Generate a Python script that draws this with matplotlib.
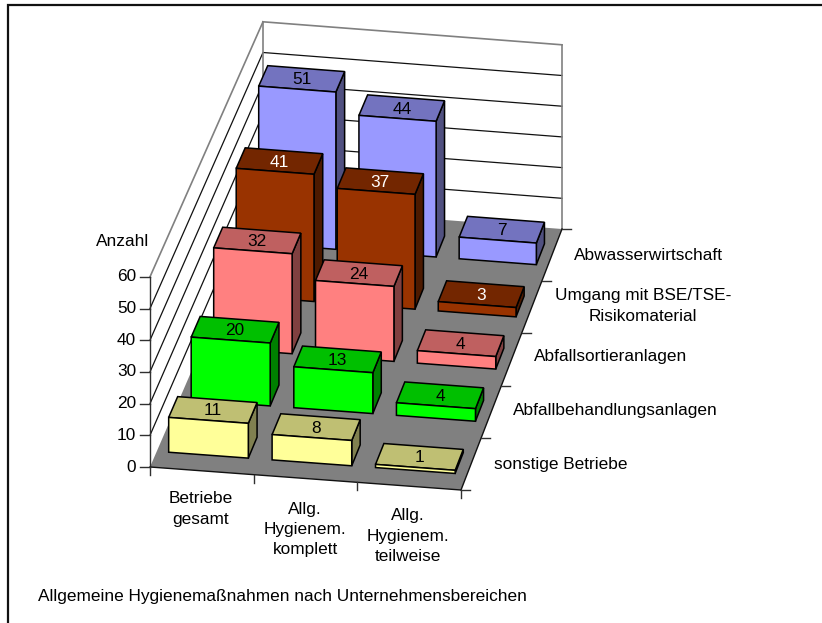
import numpy as np
import matplotlib
matplotlib.use("Agg")
import matplotlib.pyplot as plt
from matplotlib.patches import Polygon

plt.rcParams['font.family'] = ['Liberation Sans', 'DejaVu Sans']

# datos
categorias = ["Betriebe\ngesamt", "Allg.\nHygienem.\nkomplett", "Allg.\nHygienem.\nteilweise"]
series = ["sonstige Betriebe", "Abfallbehandlungsanlagen", "Abfallsortieranlagen",
          "Umgang mit BSE/TSE-\nRisikomaterial", "Abwasserwirtschaft"]
sonstige = [11, 8, 1]
behandlung = [20, 13, 4]
sortier = [32, 24, 4]
bse = [41, 37, 3]
abwasser = [51, 44, 7]
valores = [sonstige, behandlung, sortier, bse, abwasser]
ticks_z = [0, 10, 20, 30, 40, 50, 60]

# (frente, arriba, lado, texto)
colores = [
    ("#FFFF99", "#BFBF73", "#808050", "black"),
    ("#00FF00", "#00BF00", "#008000", "black"),
    ("#FF8080", "#BF6060", "#804040", "black"),
    ("#993300", "#732600", "#4D1A00", "white"),
    ("#9999FF", "#7373BF", "#505080", "black"),
]

FS = 12.4
W, H = 822, 623
fig = plt.figure(figsize=(W / 100, H / 100), dpi=100)
ax = fig.add_axes([0, 0, 1, 1])
ax.set_xlim(0, W)
ax.set_ylim(H, 0)
ax.axis("off")

# esquinas del piso en pixeles
FL = np.array([150.0, 467.0])
FR = np.array([461.0, 490.0])
BR = np.array([562.0, 229.0])
BL = np.array([263.0, 206.0])
ESC_F = 3.17
ESC_B = 3.07


def proy(u, v, z=0.0):
    """u: 0-3 categorias, v: 0-5 series, z: valor"""
    u = u / 3.0
    v = v / 5.0
    p = (FL + (FR - FL) * u) * (1 - v) + (BL + (BR - BL) * u) * v
    esc = ESC_F + (ESC_B - ESC_F) * v
    return p[0], p[1] - z * esc


def cara(puntos, color, borde="black", lw=1.1, zorder=2):
    ax.add_patch(Polygon(puntos, closed=True, facecolor=color, edgecolor=borde,
                         linewidth=lw, joinstyle="miter", zorder=zorder))


# marco: solo arriba e izquierda
ax.plot([8, 8, W], [H, 5, 5], color="#111111", lw=1.6, solid_joinstyle="miter", zorder=0)

# paredes
zmax = ticks_z[-1]
for t in ticks_z[1:-1]:
    ax.plot(*zip(proy(0, 0, t), proy(0, 5, t), proy(3, 5, t)), color="#111111", lw=0.9, zorder=1)
for a, b in [(proy(0, 0, zmax), proy(0, 5, zmax)), (proy(0, 5, zmax), proy(3, 5, zmax)),
             (proy(0, 5), proy(0, 5, zmax)), (proy(3, 5), proy(3, 5, zmax))]:
    ax.plot(*zip(a, b), color="#808080", lw=1.2, zorder=1)

# piso
cara([proy(0, 0), proy(3, 0), proy(3, 5), proy(0, 5)], "#808080", "none", zorder=1.5)

# ejes y marcas
ax.plot(*zip(proy(0, 0), proy(0, 0, zmax)), color="#303030", lw=1, zorder=1.6)
ax.plot(*zip(proy(0, 0), proy(3, 0)), color="#111111", lw=1, zorder=1.6)
ax.plot(*zip(proy(3, 0), proy(3, 5)), color="#111111", lw=1, zorder=1.6)
for t in ticks_z:
    x, y = proy(0, 0, t)
    ax.plot([x - 10, x], [y, y], color="#303030", lw=1, zorder=1.6)
    ax.text(x - 14, y, str(t), ha="right", va="center", fontsize=FS, color="black")
for i in range(4):
    x, y = proy(i, 0)
    ax.plot([x, x], [y, y + 8], color="#303030", lw=1, zorder=1.6)
for j in range(6):
    x, y = proy(3, j)
    ax.plot([x, x + 9], [y, y], color="#303030", lw=1, zorder=1.6)

# barras, de atras hacia adelante
A0, A1 = 0.115, 0.885
P0, P1 = 0.3, 0.7
for j in range(4, -1, -1):
    frente, arriba, lado, txt = colores[j]
    for i, val in enumerate(valores[j]):
        u0, u1 = i + A0, i + A1
        v0, v1 = j + P0, j + P1
        cara([proy(u1, v0), proy(u1, v1), proy(u1, v1, val), proy(u1, v0, val)], lado, zorder=3 + (4 - j))
        cara([proy(u0, v0, val), proy(u1, v0, val), proy(u1, v1, val), proy(u0, v1, val)], arriba, zorder=3 + (4 - j))
        cara([proy(u0, v0), proy(u1, v0), proy(u1, v0, val), proy(u0, v0, val)], frente, zorder=3 + (4 - j))
        x, y = proy(i + 0.5, j + 0.5, val)
        ax.text(x, y + 1, str(val), ha="center", va="center", fontsize=FS, color=txt, zorder=9)

# etiquetas categorias
cat_xy = [(200.5, 509), (305, 529.5), (408, 536)]
for (x, y), c in zip(cat_xy, categorias):
    ax.text(x, y, c, ha="center", va="center", fontsize=FS, linespacing=1.42)

# etiquetas series
ser_xy = [(561, 464), (615, 410), (611, 357), (643, 306), (648, 255)]
for (x, y), s in zip(ser_xy, series):
    ax.text(x, y, s, ha="center", va="center", fontsize=FS, linespacing=1.42)

ax.text(96, 241, "Anzahl", ha="left", va="center", fontsize=FS)
ax.text(38, 597, "Allgemeine Hygienemaßnahmen nach Unternehmensbereichen", ha="left", va="center", fontsize=FS)

fig.savefig("out.png", dpi=100)
